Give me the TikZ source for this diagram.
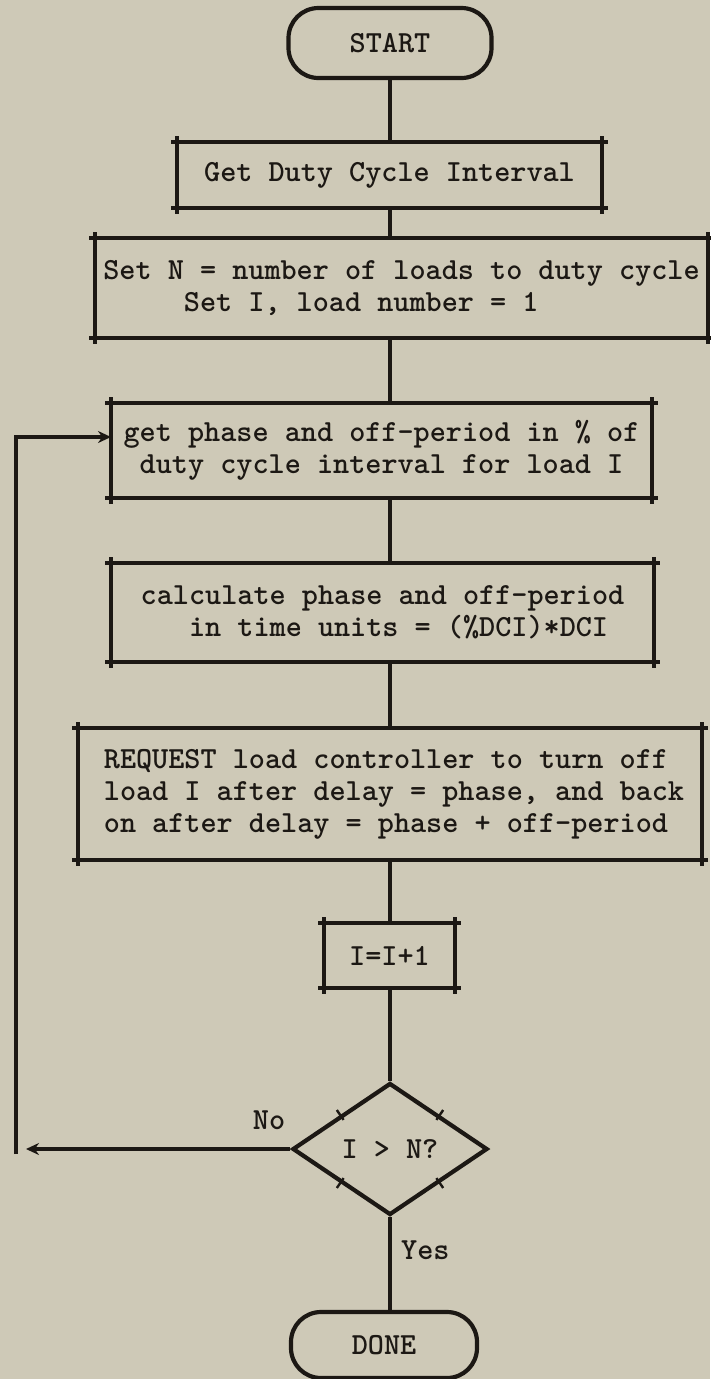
\documentclass[tikz,border=0pt]{standalone}
\usepackage{fontspec}
\usetikzlibrary{arrows.meta,shapes.geometric,calc}
\definecolor{paper}{RGB}{206,201,183}
\definecolor{ink}{RGB}{28,24,20}
\newcommand\frameext[1]{%
  \draw[frame] ([xshift=-6pt]#1.north west) -- ([xshift=6pt]#1.north east);
  \draw[frame] ([xshift=-6pt]#1.south west) -- ([xshift=6pt]#1.south east);
  \draw[frame] ([yshift=6pt]#1.north west) -- ([yshift=-6pt]#1.south west);
  \draw[frame] ([yshift=6pt]#1.north east) -- ([yshift=-6pt]#1.south east);}
\newcommand\ind{\hspace*{8pt}}
\begin{document}
\begin{tikzpicture}[x=1pt,y=-1pt,
  every node/.style={font=\ttfamily\bfseries\fontsize{30.7}{32}\selectfont, text=ink},
  box/.style={rectangle, inner sep=0pt, outer sep=0pt, align=center},
  frame/.style={draw=ink, line width=4.5pt},
  term/.style={rectangle, rounded corners=30pt, draw=ink, line width=4.2pt, inner sep=0pt},
  link/.style={draw=ink, line width=3.8pt},
  arr/.style={link, -{Stealth[length=13pt,width=12pt]}},
  lbl/.style={inner sep=0pt}]
\fill[paper] (0,0) rectangle (710,1379);
\useasboundingbox (0,0) rectangle (710,1379);
\coordinate (spine) at (390,0);

\node[term, minimum width=203pt, minimum height=70pt] (start) at (390,43) {START};
\node[box, minimum width=425pt, minimum height=66pt] (get) at (389.5,175) {Get Duty Cycle Interval};
\node[box, align=left, minimum width=613pt, minimum height=100pt] (setn) at (401.5,288)
  {Set N = number of loads to duty cycle\\\phantom{Set N}Set I, load number = 1};
\node[box, minimum width=541pt, minimum height=95pt] (phase) at (381.5,450.5)
  {get phase and off-period in \% of\\duty cycle interval for load I};
\node[box, align=left, minimum width=543pt, minimum height=99pt] (calc) at (382.5,612.5)
  {calculate phase and off-period\\\phantom{cal}in time units = (\%DCI)*DCI};
\node[box, align=left, minimum width=624pt, minimum height=132pt] (req) at (390,794)
  {\ind REQUEST load controller to turn off\\\ind load I after delay = phase, and back\\\ind on after delay = phase + off-period};
\node[box, minimum width=131pt, minimum height=65pt] (inc) at (389.5,955.5) {I=I+1};
\node[diamond, draw=ink, line width=4.2pt, inner sep=0pt, minimum width=195pt, minimum height=132pt] (dia) at (390,1149) {I > N?};
\node[term, minimum width=186pt, minimum height=66pt] (done) at (384,1345) {DONE};

\frameext{get}
\frameext{setn}
\frameext{phase}
\frameext{calc}
\frameext{req}
\frameext{inc}

\foreach \a/\b [count=\i] in {north/east, east/south, south/west, west/north}{
  \path ($(dia.\a)!0.5!(dia.\b)$) coordinate (m\i);
  \draw[link, line width=2.4pt] ($(m\i)!6pt!90:(dia.\b)$) -- ($(m\i)!6pt!-90:(dia.\b)$);
}

\draw[link] (start.south) -- (get.north -| spine);
\draw[link] (get.south -| spine) -- (setn.north -| spine);
\draw[link] (setn.south -| spine) -- (phase.north -| spine);
\draw[link] (phase.south -| spine) -- (calc.north -| spine);
\draw[link] (calc.south -| spine) -- (req.north -| spine);
\draw[link] (req.south -| spine) -- (inc.north -| spine);
\draw[link] (inc.south -| spine) -- (dia.north);
\draw[link] (dia.south) -- (done.north -| spine);

\node[lbl] (no) at (269,1120) {No};
\node[lbl, anchor=west] (yes) at (401,1250) {Yes};

\coordinate (noend) at (26,1149);
\coordinate (loopb) at (16,1154);
\coordinate (loopt) at (16,437);
\draw[arr] (dia.west) -- (noend);
\draw[arr] (loopb) -- (loopt) -- (loopt -| phase.west);
\end{tikzpicture}
\end{document}
